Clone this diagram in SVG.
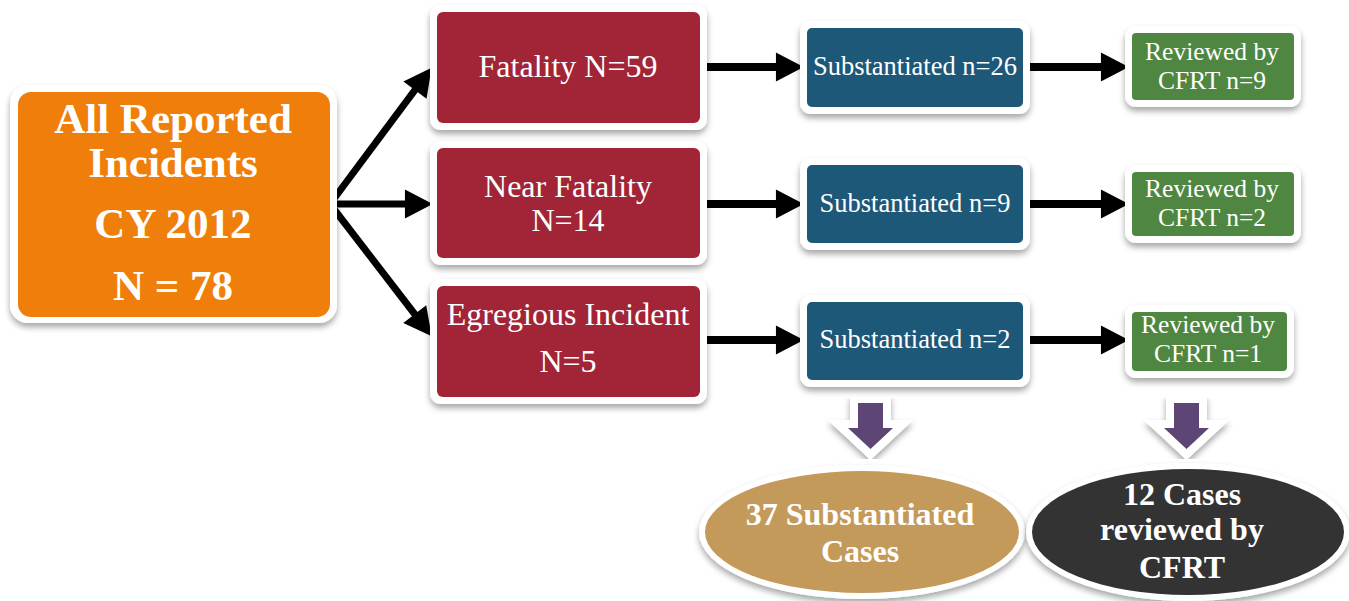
<svg xmlns="http://www.w3.org/2000/svg" width="1349" height="601" viewBox="0 0 1349 601">
<defs>
<filter id="sh" x="-10%" y="-10%" width="120%" height="130%">
<feDropShadow dx="0" dy="4" stdDeviation="3" flood-color="#000" flood-opacity="0.35"/>
</filter>
<marker id="ah" markerUnits="userSpaceOnUse" markerWidth="30" markerHeight="30" viewBox="0 -14 27 28" refX="1" refY="0" orient="auto">
<path d="M0,-13.5 L26,0 L0,13.5 z" fill="#000"/>
</marker>
</defs>
<style>
.frame{fill:#fff;filter:url(#sh)}
.t{font-family:"Liberation Serif","Times New Roman",serif;fill:#fff;text-anchor:middle}
.b{font-weight:bold}
.g{font-size:25.5px}
.ln{stroke:#000;stroke-width:8;fill:none;marker-end:url(#ah)}
.fk{stroke:#000;stroke-width:7;fill:none;marker-end:url(#ah)}
</style>
<rect width="1349" height="601" fill="#fff"/>

<g id="connectors">
<line class="fk" x1="330" y1="204" x2="415.6" y2="89.2"/>
<line class="fk" x1="330" y1="204" x2="406" y2="204"/>
<line class="fk" x1="330" y1="204" x2="415.4" y2="315"/>
<line class="ln" x1="703" y1="67" x2="777" y2="67"/>
<line class="ln" x1="703" y1="204" x2="777" y2="204"/>
<line class="ln" x1="703" y1="340" x2="777" y2="340"/>
<line class="ln" x1="1027" y1="67" x2="1102" y2="67"/>
<line class="ln" x1="1027" y1="204" x2="1102" y2="204"/>
<line class="ln" x1="1027" y1="340" x2="1102" y2="340"/>
<g id="down-arrows" fill="#5D4474" stroke="#fff" stroke-width="16" stroke-linejoin="miter" paint-order="stroke" filter="url(#sh)">
<path d="M858,403 L883,403 L883,428 L893,428 L870.5,449 L848,428 L858,428 z"/>
<path d="M1174,403 L1199,403 L1199,428 L1209,428 L1186.5,449 L1164,428 L1174,428 z"/>
</g>
</g>

<g id="all-reported">
<rect class="frame" x="10" y="85" width="327" height="238" rx="18"/>
<rect x="18" y="92" width="312" height="225" rx="13" fill="#EF7F0A"/>
<text class="t b" font-size="43" x="173" y="133">All Reported</text>
<text class="t b" font-size="43" x="173" y="177">Incidents</text>
<text class="t b" font-size="43" x="173" y="238">CY 2012</text>
<text class="t b" font-size="43" x="173" y="300">N = 78</text>
</g>

<g id="fatality">
<rect class="frame" x="430" y="5" width="277" height="125" rx="11"/>
<rect x="437" y="12" width="263" height="111" rx="6" fill="#A12537"/>
<text class="t" font-size="32" x="568" y="77">Fatality N=59</text>
</g>
<g id="near-fatality">
<rect class="frame" x="430" y="141" width="277" height="124" rx="11"/>
<rect x="437" y="148" width="263" height="110" rx="6" fill="#A12537"/>
<text class="t" font-size="32" x="568" y="197">Near Fatality</text>
<text class="t" font-size="32" x="568" y="231">N=14</text>
</g>
<g id="egregious">
<rect class="frame" x="430" y="279" width="277" height="125" rx="11"/>
<rect x="437" y="286" width="263" height="111" rx="6" fill="#A12537"/>
<text class="t" font-size="32" x="568" y="325">Egregious Incident</text>
<text class="t" font-size="32" x="568" y="372">N=5</text>
</g>

<g id="sub-26">
<rect class="frame" x="800" y="21" width="230" height="93" rx="11"/>
<rect x="807" y="28" width="216" height="79" rx="5" fill="#1E5878"/>
<text class="t" font-size="26.5" x="915" y="75">Substantiated n=26</text>
</g>
<g id="sub-9">
<rect class="frame" x="800" y="158" width="230" height="92" rx="11"/>
<rect x="807" y="165" width="216" height="78" rx="5" fill="#1E5878"/>
<text class="t" font-size="26.5" x="915" y="212">Substantiated n=9</text>
</g>
<g id="sub-2">
<rect class="frame" x="800" y="295" width="230" height="92" rx="11"/>
<rect x="807" y="302" width="216" height="78" rx="5" fill="#1E5878"/>
<text class="t" font-size="26.5" x="915" y="348">Substantiated n=2</text>
</g>

<g id="rev-9">
<rect class="frame" x="1125" y="26" width="176" height="81" rx="11"/>
<rect x="1132" y="33" width="162" height="67" rx="4" fill="#4F8742"/>
<text class="t g" x="1212" y="60">Reviewed by</text>
<text class="t g" x="1212" y="89">CFRT n=9</text>
</g>
<g id="rev-2">
<rect class="frame" x="1125" y="165" width="176" height="78" rx="11"/>
<rect x="1132" y="172" width="162" height="64" rx="4" fill="#4F8742"/>
<text class="t g" x="1212" y="197">Reviewed by</text>
<text class="t g" x="1212" y="226">CFRT n=2</text>
</g>
<g id="rev-1">
<rect class="frame" x="1125" y="305" width="169" height="73" rx="11"/>
<rect x="1132" y="312" width="155" height="59" rx="4" fill="#4F8742"/>
<text class="t g" x="1208" y="333">Reviewed by</text>
<text class="t g" x="1208" y="362">CFRT n=1</text>
</g>

<g id="total-substantiated">
<ellipse cx="862" cy="532" rx="163" ry="67" fill="#fff" filter="url(#sh)"/>
<ellipse cx="862" cy="532" rx="157" ry="61" fill="#C49A5A"/>
<text class="t b" font-size="32" x="860" y="525">37 Substantiated</text>
<text class="t b" font-size="32" x="860" y="562">Cases</text>
</g>
<g id="total-reviewed">
<ellipse cx="1188" cy="532" rx="162" ry="69" fill="#fff" filter="url(#sh)"/>
<ellipse cx="1188" cy="532" rx="156" ry="63" fill="#333333"/>
<text class="t b" font-size="32" x="1182" y="505">12 Cases</text>
<text class="t b" font-size="32" x="1182" y="540">reviewed by</text>
<text class="t b" font-size="32" x="1182" y="578">CFRT</text>
</g>
</svg>
